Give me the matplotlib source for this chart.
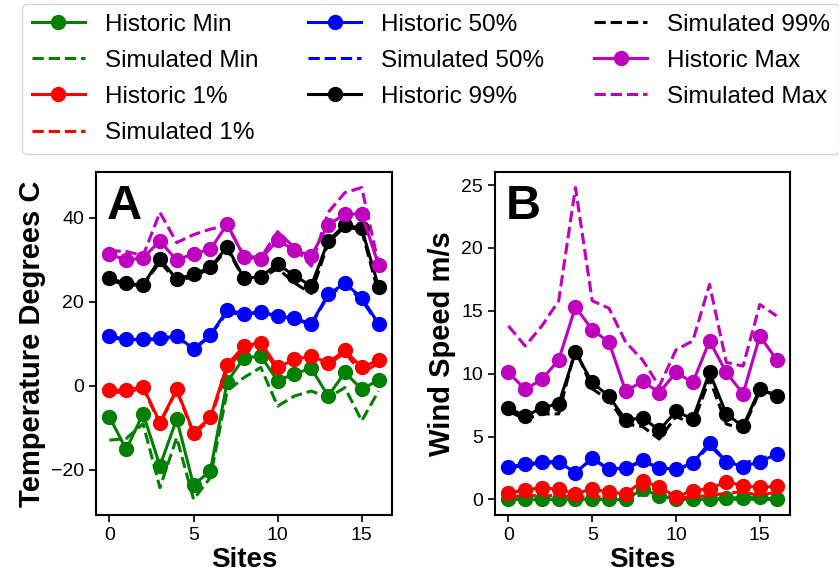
import matplotlib
matplotlib.use("Agg")
import matplotlib.pyplot as plt
import numpy as np

plt.rcParams['font.family'] = ['Liberation Sans', 'DejaVu Sans']

sites = list(range(17))

# Panel A: temperature (degrees C)
temp_hist_min = [-7.4, -15.1, -6.6, -19.0, -7.9, -23.6, -20.2, 1.0, 6.7, 7.1, 1.2, 2.9, 4.2, -2.4, 3.2, -0.8, 1.4]
temp_sim_min = [-12.9, -12.5, -9.0, -24.2, -12.3, -27.0, -21.8, -1.2, 2.0, 4.4, -4.8, -2.4, -1.2, -2.8, -0.4, -8.3, -1.2]
temp_hist_p1 = [-1.0, -1.0, -0.2, -8.7, -0.8, -11.1, -7.5, 5.0, 9.5, 10.3, 4.4, 6.3, 7.1, 5.5, 8.5, 4.4, 6.1]
temp_sim_p1 = [-1.5, -1.5, -0.5, -9.0, -1.0, -11.5, -8.0, 4.0, 9.0, 10.0, 3.5, 5.5, 6.5, 5.0, 8.0, 3.0, 5.5]
temp_hist_p50 = [11.9, 11.1, 11.1, 11.3, 11.9, 8.8, 12.1, 18.0, 17.2, 17.6, 16.7, 16.1, 14.8, 21.8, 24.4, 21.0, 14.8]
temp_sim_p50 = [11.5, 11.0, 11.0, 11.0, 11.5, 8.5, 12.0, 17.5, 17.0, 17.5, 16.5, 16.0, 14.5, 21.5, 24.0, 20.5, 14.5]
temp_hist_p99 = [25.6, 24.4, 24.0, 30.2, 25.4, 26.6, 28.2, 33.1, 25.6, 26.0, 29.0, 26.2, 23.8, 34.5, 38.3, 37.5, 23.6]
temp_sim_p99 = [25.2, 24.0, 24.0, 29.5, 25.0, 26.0, 28.0, 32.5, 25.5, 25.5, 28.0, 24.5, 22.0, 34.0, 38.0, 37.0, 22.0]
temp_hist_max = [31.4, 29.9, 30.5, 34.5, 29.9, 31.5, 32.5, 38.5, 30.7, 30.2, 34.7, 32.3, 31.0, 38.3, 40.9, 40.9, 28.8]
temp_sim_max = [32.2, 32.0, 31.0, 41.3, 34.1, 36.0, 37.3, 38.2, 31.0, 30.5, 36.7, 32.9, 28.5, 41.3, 46.0, 47.2, 29.0]

# Panel B: wind speed (m/s)
wind_hist_min = [0.0, 0.0, 0.0, 0.0, 0.0, 0.0, 0.0, 0.0, 0.8, 0.3, 0.0, 0.0, 0.0, 0.1, 0.15, 0.2, 0.0]
wind_sim_min = [0.0, 0.0, 0.0, 0.0, 0.0, 0.0, 0.0, 0.0, 0.4, 0.2, 0.0, 0.0, 0.0, 0.0, 0.0, 0.0, 0.0]
wind_hist_p1 = [0.5, 0.75, 0.93, 0.8, 0.45, 0.85, 0.55, 0.45, 1.45, 1.0, 0.2, 0.7, 0.85, 1.4, 1.1, 0.95, 1.05]
wind_sim_p1 = [0.2, 0.3, 0.3, 0.3, 0.2, 0.2, 0.2, 0.3, 0.8, 0.6, 0.1, 0.2, 0.3, 0.5, 0.6, 0.3, 0.6]
wind_hist_p50 = [2.6, 2.8, 3.0, 3.0, 2.1, 3.3, 2.4, 2.5, 3.1, 2.5, 2.4, 2.9, 4.5, 3.0, 2.6, 3.0, 3.6]
wind_sim_p50 = [2.5, 2.7, 2.9, 2.9, 2.2, 3.2, 2.4, 2.5, 3.0, 2.5, 2.4, 2.8, 4.3, 3.0, 2.9, 3.2, 3.7]
wind_hist_p99 = [7.3, 6.6, 7.3, 7.6, 11.7, 9.3, 8.2, 6.3, 6.5, 5.5, 7.0, 6.4, 10.1, 6.8, 5.8, 8.8, 8.2]
wind_sim_p99 = [7.0, 6.4, 6.8, 6.8, 12.0, 8.8, 7.9, 6.0, 5.8, 4.8, 6.6, 6.0, 9.6, 6.0, 5.6, 8.6, 8.4]
wind_hist_max = [10.1, 8.75, 9.55, 11.1, 15.3, 13.5, 12.5, 8.6, 9.4, 8.5, 10.1, 9.3, 12.6, 10.1, 8.4, 13.0, 11.1]
wind_sim_max = [13.8, 12.2, 13.8, 15.8, 24.8, 15.8, 15.2, 12.5, 11.1, 9.0, 11.9, 12.6, 17.1, 10.9, 10.6, 15.5, 14.6]

series_names = ["Min", "1%", "50%", "99%", "Max"]
colors = ["green", "red", "blue", "black", "m"]

temp_hist = [temp_hist_min, temp_hist_p1, temp_hist_p50, temp_hist_p99, temp_hist_max]
temp_sim = [temp_sim_min, temp_sim_p1, temp_sim_p50, temp_sim_p99, temp_sim_max]
wind_hist = [wind_hist_min, wind_hist_p1, wind_hist_p50, wind_hist_p99, wind_hist_max]
wind_sim = [wind_sim_min, wind_sim_p1, wind_sim_p50, wind_sim_p99, wind_sim_max]

fig = plt.figure(figsize=(8.39, 5.83), dpi=100)
axA = fig.add_axes([96/839, 1-515/583, (392-96)/839, (515-172)/583])
axB = fig.add_axes([495/839, 1-515/583, (790-495)/839, (515-172)/583])

def draw(ax, hist, sim):
    for name, c, h, s in zip(series_names, colors, hist, sim):
        ax.plot(sites, h, '-o', color=c, lw=2.2, ms=10, label="Historic " + name)
        ax.plot(sites, s, '--', color=c, lw=2.2, label="Simulated " + name)

draw(axA, temp_hist, temp_sim)
draw(axB, wind_hist, wind_sim)

for ax, letter, ylabel in [(axA, "A", "Temperature Degrees C"), (axB, "B", "Wind Speed m/s")]:
    ax.set_xlabel("Sites", fontsize=20, fontweight='bold', labelpad=2)
    ax.set_ylabel(ylabel, fontsize=21, fontweight='bold')
    ax.tick_params(labelsize=14, width=1.2, length=5)
    ax.set_xticks([0, 5, 10, 15])
    for sp in ax.spines.values():
        sp.set_linewidth(1.5)
    ax.text(0.035, 0.965, letter, transform=ax.transAxes, ha='left', va='top',
            fontsize=35, fontweight='bold')

axA.set_yticks([-20, 0, 20, 40])
axB.set_yticks([0, 5, 10, 15, 20, 25])

handles, labels = axA.get_legend_handles_labels()
fig.legend(handles, labels, loc='upper left', bbox_to_anchor=(22/839, 1-4/583),
           ncol=3, fontsize=17.5, handlelength=2.2, columnspacing=2.05,
           labelspacing=0.58, borderaxespad=0, frameon=True)

fig.savefig("out.png", dpi=100)
